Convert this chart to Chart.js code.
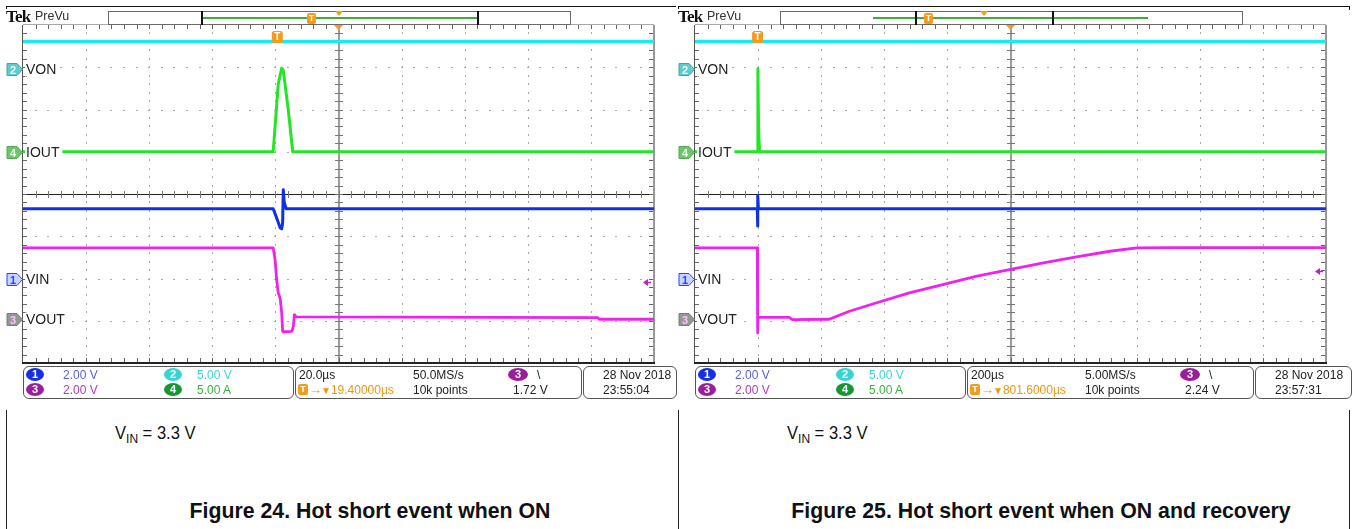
<!DOCTYPE html>
<html><head><meta charset="utf-8">
<script src="https://cdn.jsdelivr.net/npm/chart.js"></script>
<style>
html,body{margin:0;padding:0;background:#fff;}
body{width:1352px;height:529px;position:relative;overflow:hidden;font-family:'Liberation Sans',Arial,sans-serif;color:#222;}
.a{position:absolute;white-space:nowrap;}
canvas{position:absolute;top:0;}
.tek{font:bold 17px 'Liberation Serif','Times New Roman',serif;letter-spacing:-0.8px;color:#111;line-height:17px;}
.prevu{font:12.5px 'Liberation Sans Narrow','Liberation Sans',sans-serif;color:#333;line-height:14px;}
.rec{position:absolute;top:11px;height:12px;border:1px solid #6a6a6a;background:#fff;}
.brk{position:absolute;top:11px;width:2px;height:14px;background:#111;}
.gl{position:absolute;top:17px;height:2px;background:#3cae3c;}
.tb{position:absolute;background:#f49b1c;color:#fff;font:bold 9px 'Liberation Sans',sans-serif;text-align:center;border-radius:2px;}
.tri{position:absolute;width:0;height:0;border-left:4px solid transparent;border-right:4px solid transparent;border-top:5px solid #f49b1c;}
.box{position:absolute;border:1px solid #555;border-radius:6px;top:366px;height:31px;}
.t12{font:12px 'Liberation Sans',Arial,sans-serif;line-height:14px;}
.ell{position:absolute;width:18px;height:13px;border-radius:50%;color:#fff;font:bold 11px 'Liberation Sans',sans-serif;line-height:13px;text-align:center;}
.cap1{font:18px 'Liberation Sans',Arial,sans-serif;color:#111;transform:scaleX(0.92);transform-origin:0 0;}
.cap2{font:bold 21.3px 'Liberation Sans',Arial,sans-serif;color:#111;text-align:center;}
.vline{position:absolute;width:1px;background:#222;top:410px;height:119px;}
.arr{font-size:13px;letter-spacing:-1px;}
.arr2{font-size:10px;}
</style></head><body>
<canvas id="scope24" width="676" height="400" style="left:0"></canvas>
<canvas id="scope25" width="680" height="400" style="left:672px"></canvas>
<script>
// ---------------- channel set-up (both captures) ----------------
const channelNames    = ['VIN', 'VON', 'VOUT', 'IOUT'];   // ch1..ch4
const channelPerDiv   = [2, 5, 2, 5];                      // V/div, V/div, V/div, A/div
const channelPosition = [-2.0, 2.95, -2.95, 1.0];          // ground position, divisions from centre
const channelColors   = ['#1030e8', '#14eef0', '#ee22ee', '#22e622'];

// ---------------- Figure 24 : 20 µs/div, trigger at t = 0 ----------------
const fig24Window = [-80.6, 119.4];                        // µs
const fig24VON_t  = [-80.6, 119.4];
const fig24VON    = [3.3, 3.3];
const fig24IOUT_t = [-80.6, -1.3, 0.3, 1.4, 1.9, 3.5, 4.9, 119.4];
const fig24IOUT   = [0, 0, 8.0, 9.9, 9.6, 4.9, 0, 0];
const fig24VIN_t  = [-80.6, -1.3, -0.2, 0.9, 1.4, 1.7, 1.9, 2.2, 2.8, 119.4];
const fig24VIN    = [3.3, 3.3, 2.87, 2.4, 2.35, 2.65, 4.2, 3.6, 3.3, 3.3];
const fig24VOUT_t = [-80.6, -1.3, -0.7, -0.2, 0.3, 0.9, 1.4, 1.7, 1.9, 4.6, 5.1, 5.4, 6.0, 101.6, 102.0, 119.4];
const fig24VOUT   = [3.35, 3.35, 2.79, 1.85, 1.22, 0.98, 0.27, -0.6, -0.62, -0.6, -0.36, 0.19, 0.08, 0.05, -0.03, -0.03];
const fig24TrigLevel = 1.72;
const fig24Info = ['20.0µs', '19.40000µs', '50.0MS/s', '10k points', '1.72 V', '28 Nov 2018', '23:55:04'];

// ---------------- Figure 25 : 200 µs/div, trigger at t = 0 ----------------
const fig25Window = [-198.4, 1801.6];
const fig25VON_t  = [-198.4, 1801.6];
const fig25VON    = [3.3, 3.3];
const fig25IOUT_t = [-198.4, -1, 1, 3, 6, 1801.6];
const fig25IOUT   = [0, 0, 9.8, 3.0, 0, 0];
const fig25VIN_t  = [-198.4, -1, 0, 1, 2.5, 1801.6];
const fig25VIN    = [3.3, 3.3, 2.48, 3.93, 3.3, 3.3];
const fig25VOUT_t = [-198.4, -1, 0.3, 2, 100, 110, 227, 291, 375, 481, 587, 692, 798, 906, 1011, 1117, 1202, 1328, 1801.6];
const fig25VOUT   = [3.35, 3.35, -0.68, 0.06, 0.06, -0.05, -0.03, 0.35, 0.74, 1.22, 1.61, 2.0, 2.32, 2.64, 2.92, 3.19, 3.35, 3.36, 3.36];
const fig25TrigLevel = 2.24;
const fig25Info = ['200µs', '801.6000µs', '5.00MS/s', '10k points', '2.24 V', '28 Nov 2018', '23:57:31'];

const captions = ['Figure 24. Hot short event when ON', 'Figure 25. Hot short event when ON and recovery'];

// ---------------- plugins ----------------
const graticule = {
  id: 'graticule',
  beforeDatasetsDraw(chart) {
    const {ctx, chartArea: a} = chart;
    const W = a.right - a.left, H = a.bottom - a.top, dx = W / 10, dy = H / 8;
    const cx = Math.round(a.left + 5 * dx), cy = Math.round(a.top + 4 * dy);
    ctx.save();
    ctx.fillStyle = '#a8a8a8';
    for (let i = 1; i < 10; i++) {
      if (i === 5) continue;
      const x = Math.round(a.left + i * dx);
      for (let k = 1; k < 40; k++) ctx.fillRect(x, Math.round(a.top + k * dy / 5) - 1, 1, 2);
    }
    for (let j = 1; j < 8; j++) {
      if (j === 4) continue;
      const y = Math.round(a.top + j * dy);
      for (let k = 1; k < 50; k++) ctx.fillRect(Math.round(a.left + k * dx / 5) - 1, y, 2, 1);
    }
    // centre lines
    ctx.fillStyle = '#9c9c9c'; ctx.fillRect(cx - 1, a.top, 2, H);
    ctx.fillStyle = '#222'; ctx.fillRect(a.left, cy, W, 1);
    ctx.fillStyle = '#777';
    for (let k = 1; k < 50; k++) ctx.fillRect(Math.round(a.left + k * dx / 5), cy - 3, 1, 7);
    for (let k = 1; k < 40; k++) ctx.fillRect(cx - 4, Math.round(a.top + k * dy / 5), 8, 1);
    // edge ticks
    ctx.fillStyle = '#666';
    for (let k = 1; k < 50; k++) {
      const x = Math.round(a.left + k * dx / 5);
      ctx.fillRect(x, a.top, 1, 4); ctx.fillRect(x, a.bottom - 5, 1, 4);
    }
    for (let k = 1; k < 40; k++) {
      const y = Math.round(a.top + k * dy / 5);
      ctx.fillRect(a.left, y, 4, 1); ctx.fillRect(a.right - 5, y, 4, 1);
    }
    // frame
    ctx.fillStyle = '#aaa'; ctx.fillRect(a.left, a.top - 1, W, 1);
    ctx.fillStyle = '#999'; ctx.fillRect(a.right - 1, a.top, 2, H);
    ctx.fillStyle = '#555'; ctx.fillRect(a.left - 1, a.top, 1, H);
    ctx.fillStyle = '#222'; ctx.fillRect(a.left - 1, a.bottom - 1, W + 2, 2);
    ctx.restore();
  }
};

const markerStyle = [
  {fill: '#c8d2ff', stroke: '#2a46ee', text: '#2a46ee'},
  {fill: '#62cccc', stroke: '#3aa8a8', text: '#eaffff'},
  {fill: '#959595', stroke: '#7c7c7c', text: '#f6c8f6'},
  {fill: '#70c470', stroke: '#4ea84e', text: '#eaffea'}
];

function rrect(ctx, x, y, w, h, r) {
  ctx.beginPath();
  ctx.moveTo(x + r, y); ctx.lineTo(x + w - r, y); ctx.quadraticCurveTo(x + w, y, x + w, y + r);
  ctx.lineTo(x + w, y + h - r); ctx.quadraticCurveTo(x + w, y + h, x + w - r, y + h);
  ctx.lineTo(x + r, y + h); ctx.quadraticCurveTo(x, y + h, x, y + h - r);
  ctx.lineTo(x, y + r); ctx.quadraticCurveTo(x, y, x + r, y); ctx.closePath();
}

const overlay = {
  id: 'overlay',
  afterDatasetsDraw(chart, args, opts) {
    const {ctx, chartArea: a, scales} = chart;
    ctx.save();
    for (let c = 0; c < 4; c++) {
      const y = Math.round(scales['ch' + (c + 1)].getPixelForValue(0)) + 0.5;
      ctx.font = "14px 'Liberation Sans Narrow','Liberation Sans',sans-serif";
      const w = ctx.measureText(channelNames[c]).width;
      ctx.fillStyle = '#fff'; ctx.fillRect(a.left + 2, y - 7, w + 4, 14);
      ctx.fillStyle = '#222'; ctx.textBaseline = 'middle'; ctx.textAlign = 'left';
      ctx.fillText(channelNames[c], a.left + 3, y + 1);
      const m = markerStyle[c];
      ctx.beginPath();
      ctx.moveTo(a.left - 16, y - 6); ctx.lineTo(a.left - 6, y - 6); ctx.lineTo(a.left - 0.5, y);
      ctx.lineTo(a.left - 6, y + 6); ctx.lineTo(a.left - 16, y + 6); ctx.closePath();
      ctx.fillStyle = m.fill; ctx.fill(); ctx.strokeStyle = m.stroke; ctx.lineWidth = 1; ctx.stroke();
      ctx.fillStyle = m.text; ctx.font = "bold 11px 'Liberation Sans',sans-serif"; ctx.textAlign = 'center';
      ctx.fillText(String(c + 1), a.left - 10, y + 1);
    }
    // trigger point marker
    const tx = scales.x.getPixelForValue(0);
    ctx.fillStyle = '#f49b1c'; rrect(ctx, tx - 5.5, a.top + 6, 11, 12, 2.5); ctx.fill();
    ctx.fillStyle = '#fff'; ctx.font = "bold 10px 'Liberation Sans',sans-serif"; ctx.textAlign = 'center'; ctx.textBaseline = 'middle';
    ctx.fillText('T', tx, a.top + 12.5);
    // expansion point triangle
    const ex = scales.x.getPixelForValue((scales.x.min + scales.x.max) / 2);
    ctx.beginPath(); ctx.moveTo(ex - 4.5, a.top); ctx.lineTo(ex + 4.5, a.top); ctx.lineTo(ex, a.top + 5); ctx.closePath();
    ctx.fillStyle = '#f49b1c'; ctx.fill();
    // trigger level arrow (ch3)
    const ly = Math.round(scales.ch3.getPixelForValue(opts.level)) + 0.5;
    ctx.fillStyle = '#c020c0'; ctx.strokeStyle = '#c020c0';
    ctx.beginPath(); ctx.moveTo(a.right - 11, ly); ctx.lineTo(a.right - 6, ly - 3.5); ctx.lineTo(a.right - 6, ly + 3.5); ctx.closePath(); ctx.fill();
    ctx.lineWidth = 1.5; ctx.beginPath(); ctx.moveTo(a.right - 7, ly); ctx.lineTo(a.right - 3, ly); ctx.stroke();
    ctx.restore();
  }
};

function makeScope(id, win, series, level, padRight) {
  const scales = {x: {type: 'linear', display: false, min: win[0], max: win[1]}};
  for (let c = 0; c < 4; c++) {
    const s = channelPerDiv[c], p = channelPosition[c];
    scales['ch' + (c + 1)] = {type: 'linear', display: false, min: (-4 - p) * s, max: (4 - p) * s};
  }
  const datasets = series.map(sr => ({
    data: sr.t.map((t, i) => ({x: t, y: sr.v[i]})),
    yAxisID: 'ch' + sr.ch, borderColor: channelColors[sr.ch - 1], borderWidth: sr.w,
    pointRadius: 0, tension: 0, fill: false, borderJoinStyle: 'round'
  }));
  new Chart(document.getElementById(id), {
    type: 'line',
    data: {datasets},
    options: {
      responsive: false, animation: false, events: [], devicePixelRatio: 1,
      layout: {padding: {left: 23, top: 25, right: padRight, bottom: 37}},
      plugins: {legend: {display: false}, tooltip: {enabled: false}, overlay: {level}},
      scales
    },
    plugins: [graticule, overlay]
  });
}

makeScope('scope24', fig24Window, [
  {ch: 2, t: fig24VON_t, v: fig24VON, w: 3.5},
  {ch: 4, t: fig24IOUT_t, v: fig24IOUT, w: 3},
  {ch: 1, t: fig24VIN_t, v: fig24VIN, w: 3},
  {ch: 3, t: fig24VOUT_t, v: fig24VOUT, w: 2.8}
], fig24TrigLevel, 22);

makeScope('scope25', fig25Window, [
  {ch: 2, t: fig25VON_t, v: fig25VON, w: 3.5},
  {ch: 4, t: fig25IOUT_t, v: fig25IOUT, w: 3},
  {ch: 1, t: fig25VIN_t, v: fig25VIN, w: 3},
  {ch: 3, t: fig25VOUT_t, v: fig25VOUT, w: 2.8}
], fig25TrigLevel, 26);

// ---------------- scope frame text (header, readouts, captions) ----------------
function add(html) { document.body.insertAdjacentHTML('beforeend', html); }

function frame(X0, hdr, info, cap, capCenter, rightEnd) {
  add(`<div class="a" style="left:${X0 + 6}px;top:6px;width:${rightEnd - X0 - 6}px;height:1px;background:#111"></div>`);
  add(`<div class="a" style="left:${X0 + 6}px;top:6px;width:1px;height:3px;background:#111"></div>`);
  add(`<div class="a tek" style="left:${X0 + 6}px;top:8px">Tek</div>`);
  add(`<div class="a prevu" style="left:${X0 + 35}px;top:9px">PreVu</div>`);
  add(`<div class="rec" style="left:${hdr.bar[0]}px;width:${hdr.bar[1] - hdr.bar[0]}px"></div>`);
  add(`<div class="gl" style="left:${hdr.green[0]}px;width:${hdr.green[1] - hdr.green[0]}px"></div>`);
  add(`<div class="brk" style="left:${hdr.brk[0]}px"></div><div class="brk" style="left:${hdr.brk[1] - 1}px"></div>`);
  add(`<div class="tb" style="left:${hdr.t - 4}px;top:13px;width:9px;height:11px;line-height:11px;font-size:9px">T</div>`);
  add(`<div class="tri" style="left:${hdr.tri - 4}px;top:11px"></div>`);
  // readout boxes
  add(`<div class="box" style="left:${X0 + 23}px;width:269px"></div>`);
  add(`<div class="box" style="left:${X0 + 295}px;width:285px"></div>`);
  add(`<div class="box" style="left:${X0 + 583}px;width:${X0 ? 95 : 92}px"></div>`);
  const r1 = 367.5, r2 = 382.5;
  add(`<div class="ell" style="left:${X0 + 26}px;top:368px;background:#1530e0">1</div>`);
  add(`<div class="a t12" style="left:${X0 + 63}px;top:${r1}px;color:#5b5bef">2.00 V</div>`);
  add(`<div class="ell" style="left:${X0 + 164}px;top:368px;background:#35d5d5">2</div>`);
  add(`<div class="a t12" style="left:${X0 + 197}px;top:${r1}px;color:#3ad6d6">5.00 V</div>`);
  add(`<div class="ell" style="left:${X0 + 26}px;top:383px;background:#9b1f9b">3</div>`);
  add(`<div class="a t12" style="left:${X0 + 63}px;top:${r2}px;color:#b13cb1">2.00 V</div>`);
  add(`<div class="ell" style="left:${X0 + 164}px;top:383px;background:#109a30">4</div>`);
  add(`<div class="a t12" style="left:${X0 + 197}px;top:${r2}px;color:#3bb33b">5.00 A</div>`);
  add(`<div class="a t12" style="left:${X0 + 299}px;top:${r1}px">${info[0]}</div>`);
  add(`<div class="tb" style="left:${X0 + 298}px;top:384px;width:10px;height:11px;line-height:11px">T</div>`);
  add(`<div class="a t12" style="left:${X0 + 309}px;top:${r2}px;color:#f0960f"><span class="arr">→</span><span class="arr2">▼</span>${info[1]}</div>`);
  add(`<div class="a t12" style="left:${X0 + 413}px;top:${r1}px">${info[2]}</div>`);
  add(`<div class="a t12" style="left:${X0 + 413}px;top:${r2}px">${info[3]}</div>`);
  add(`<div class="ell" style="left:${X0 + 508}px;top:368px;width:20px;background:#9b1f9b">3</div>`);
  add(`<div class="a t12" style="left:${X0 + 537}px;top:${r1}px">\\</div>`);
  add(`<div class="a t12" style="left:${X0 + 513}px;top:${r2}px">${info[4]}</div>`);
  add(`<div class="a t12" style="left:${X0 + 603}px;top:${r1}px">${info[5]}</div>`);
  add(`<div class="a t12" style="left:${X0 + 603}px;top:${r2}px">${info[6]}</div>`);
  // captions
  add(`<div class="a cap1" style="left:${X0 + 115}px;top:423px">V<span style="font-size:13px;position:relative;top:4px">IN</span> = 3.3 V</div>`);
  add(`<div class="a cap2" style="left:${capCenter - 300}px;width:600px;top:499px">${cap}</div>`);
}

frame(0, {bar: [108, 569], green: [201, 478], brk: [201, 478], t: 311, tri: 339}, fig24Info, captions[0], 370, 676);
frame(672, {bar: [780, 1241], green: [873, 1148], brk: [915, 1053], t: 928, tri: 984}, fig25Info, captions[1], 1041, 1349);
add('<div class="vline" style="left:6px"></div><div class="vline" style="left:678px"></div><div class="vline" style="left:1349px"></div>');
add('<div class="a" style="left:1349px;top:6px;width:1px;height:4px;background:#111"></div>');
</script>
</body></html>
